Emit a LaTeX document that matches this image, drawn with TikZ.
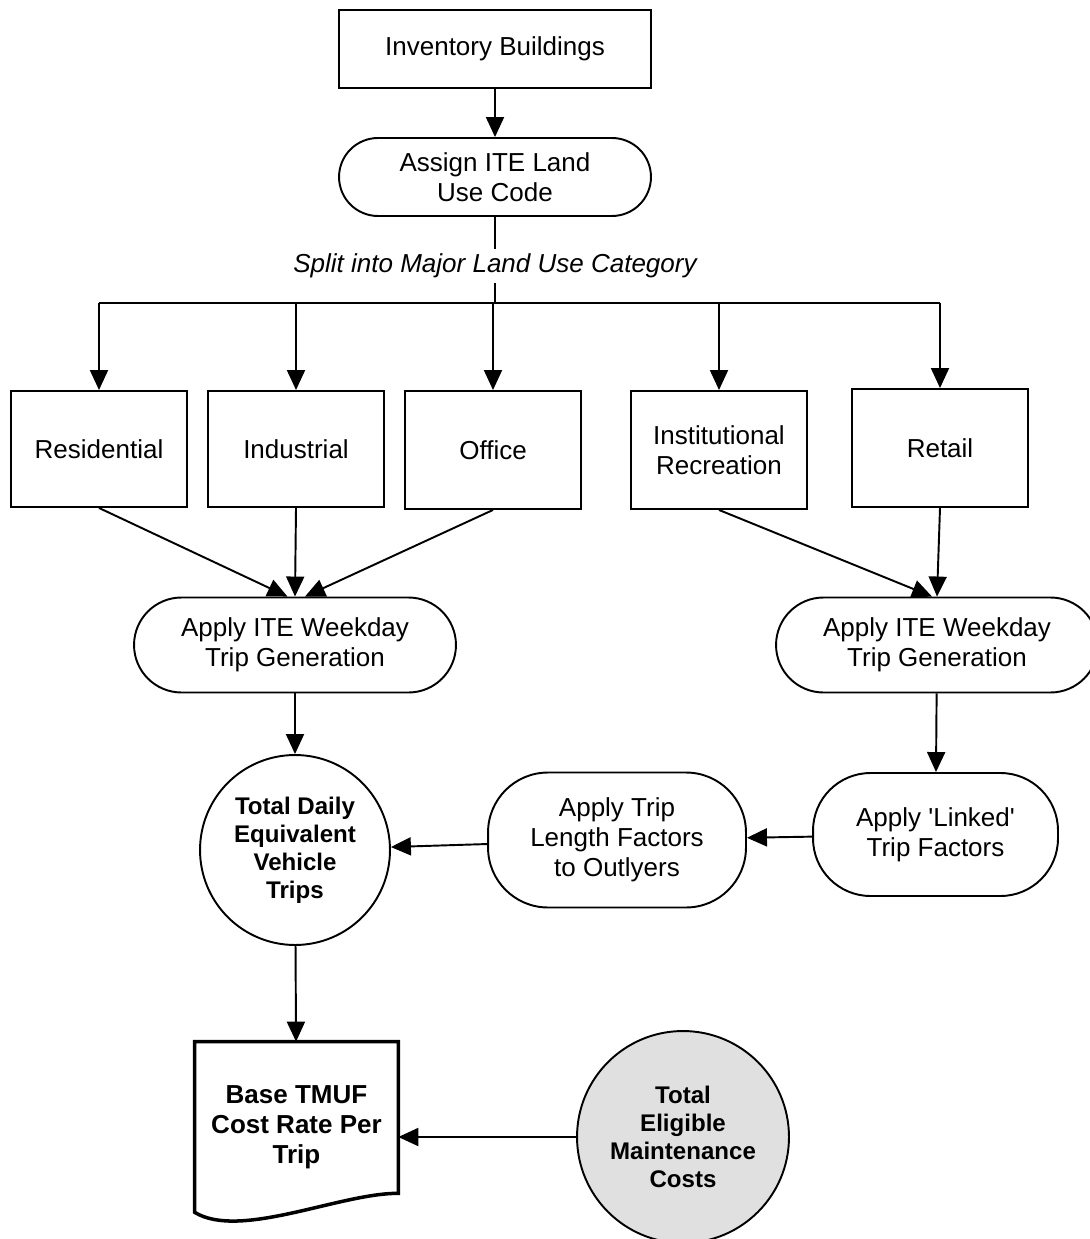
\documentclass[tikz,border=0pt]{standalone}
\usepackage{fontspec}
\setmainfont{Liberation Sans}
\usetikzlibrary{arrows.meta,positioning}

\newcommand\labelfont{\fontsize{14.8}{17}\selectfont}
\newcommand\strongfont{\bfseries\fontsize{13.7}{15.9}\selectfont}

\tikzset{
  stepline/.style={line width=1.1pt},
  arrow/.style={stepline, -{Triangle[length=0.4cm,width=0.36cm]}},
  catbox/.style={draw, stepline, minimum width=3.52cm, minimum height=2.32cm, align=center, font=\labelfont},
  pill/.style={draw, stepline, align=center, font=\labelfont},
  bubble/.style={circle, draw, stepline, align=center, font=\strongfont}
}

\begin{document}
\begin{tikzpicture}[x=0.02cm, y=-0.02cm]
            \useasboundingbox (0,0) rectangle (1089,1239);

            \node[catbox, minimum width=6.24cm, minimum height=1.56cm] (inv) at (495,49) {Inventory Buildings};
            \node[pill, minimum width=6.24cm, minimum height=1.56cm, rounded corners=0.78cm] (assign) at (495,177) {Assign ITE Land\\Use Code};
            \coordinate (fork) at (495,303);

            % land use categories
            \node[catbox] (res) at (99,449) {Residential};
            \node[catbox] (ind) at (296,449) {Industrial};
            \node[catbox, minimum height=2.36cm] (off) at (493,450) {Office};
            \node[catbox, minimum height=2.36cm] (inst) at (719,450) {Institutional\\Recreation};
            \node[catbox, minimum height=2.36cm] (ret) at (940,448) {Retail};

            \node[pill, minimum width=6.44cm, minimum height=1.9cm, rounded corners=0.95cm] (applyL) at (295,645) {Apply ITE Weekday\\Trip Generation};
            \node[pill, minimum width=6.44cm, minimum height=1.9cm, rounded corners=0.95cm] (applyR) at (937,645) {Apply ITE Weekday\\Trip Generation};

            \node[bubble, minimum size=3.8cm] (daily) at (295,850) {Total Daily\\Equivalent\\Vehicle\\Trips};
            \node[pill, minimum width=5.16cm, minimum height=2.7cm, rounded corners=1.2cm] (triplen) at (617,840) {Apply Trip\\Length Factors\\to Outlyers};
            \node[pill, minimum width=4.9cm, minimum height=2.46cm, rounded corners=1.15cm] (linked) at (935.5,834.5) {Apply \textquotesingle Linked\textquotesingle\\Trip Factors};

            % document shape
            \node[align=center, font=\bfseries\labelfont, minimum width=4.06cm, minimum height=3.4cm] (base) at (296.5,1127) {Base TMUF\\Cost Rate Per\\Trip};
            \draw[line width=2pt] (base.north west) -- (base.north east) -- ([yshift=0.38cm]base.south east)
                .. controls (340,1193) and (240,1240) .. (base.south west) -- cycle;

            \node[bubble, fill=black!12, minimum size=4.24cm] (maint) at (683,1137) {Total\\Eligible\\Maintenance\\Costs};

            % connectors
            \draw[arrow] (inv) -- (assign);
            \draw[stepline] (assign) -- (fork);
            \draw[stepline] (res.north |- fork) -- (ret.north |- fork);
            \foreach \n in {res,ind,off,inst,ret}
                \draw[arrow] (\n.north |- fork) -- (\n.north);
            \node[font=\itshape\labelfont, fill=white, inner sep=3pt] (split) at (495,266) {Split into Major Land Use Category};

            \draw[arrow] (res.south) -- ([xshift=-0.15cm]applyL.north);
            \draw[arrow] (ind.south) -- (applyL.north);
            \draw[arrow] (off.south) -- ([xshift=0.2cm]applyL.north);
            \draw[arrow] (inst.south) -- ([xshift=-0.1cm]applyR.north);
            \draw[arrow] (ret.south) -- (applyR.north);

            \draw[arrow] (applyL) -- (daily);
            \draw[arrow] (applyR) -- (linked);
            \draw[arrow] (linked) -- (triplen);
            \draw[arrow] (triplen) -- (daily);
            \draw[arrow] (daily) -- (base);
            \draw[arrow] (maint.west) -- (maint.west -| base.east);
        \end{tikzpicture}
\end{document}
